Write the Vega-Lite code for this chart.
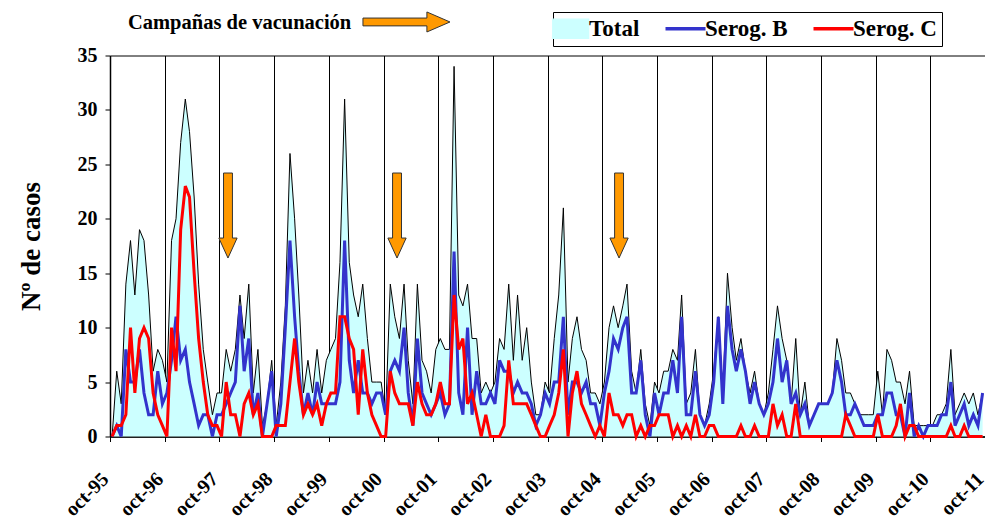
{
  "$schema": "https://vega.github.io/schema/vega-lite/v6.json",
  "width": 875,
  "height": 381,
  "autosize": "none",
  "padding": {"left": 110, "top": 55.5, "right": 0, "bottom": 82.5},
  "background": "white",
  "config": {
    "font": "Liberation Serif",
    "view": {"stroke": "black", "strokeWidth": 1},
    "axis": {"labelFont": "Liberation Serif", "labelFontWeight": "bold", "labelColor": "black", "domainColor": "black", "tickColor": "black", "titleColor": "black", "titleFont": "Liberation Serif", "titleFontWeight": "bold"},
    "legend": {"labelFont": "Liberation Serif", "titleFont": "Liberation Serif"},
    "text": {"font": "Liberation Serif"}
  },
  "datasets": {
    "m": [
      {"d":"1995-10-15","t":0,"b":0,"c":0},{"d":"1995-11-15","t":6,"b":1,"c":1},{"d":"1995-12-15","t":3,"b":0,"c":1},
      {"d":"1996-01-15","t":14,"b":8,"c":2},{"d":"1996-02-15","t":18,"b":5,"c":10},{"d":"1996-03-15","t":13,"b":5,"c":4},
      {"d":"1996-04-15","t":19,"b":8,"c":9},{"d":"1996-05-15","t":18,"b":4,"c":10},{"d":"1996-06-15","t":13,"b":2,"c":9},
      {"d":"1996-07-15","t":6,"b":2,"c":4},{"d":"1996-08-15","t":8,"b":6,"c":2},{"d":"1996-09-15","t":7,"b":3,"c":1},
      {"d":"1996-10-15","t":5,"b":4,"c":0},{"d":"1996-11-15","t":18,"b":7,"c":10},{"d":"1996-12-15","t":20,"b":11,"c":6},
      {"d":"1997-01-15","t":27,"b":7,"c":19},{"d":"1997-02-15","t":31,"b":8,"c":23},{"d":"1997-03-15","t":28,"b":5,"c":22},
      {"d":"1997-04-15","t":22,"b":3,"c":15},{"d":"1997-05-15","t":14,"b":1,"c":9},{"d":"1997-06-15","t":8,"b":2,"c":5},
      {"d":"1997-07-15","t":5,"b":2,"c":2},{"d":"1997-08-15","t":2,"b":0,"c":1},{"d":"1997-09-15","t":4,"b":2,"c":1},
      {"d":"1997-10-15","t":4,"b":2,"c":0},{"d":"1997-11-15","t":8,"b":3,"c":5},{"d":"1997-12-15","t":6,"b":4,"c":2},
      {"d":"1998-01-15","t":8,"b":5,"c":2},{"d":"1998-02-15","t":13,"b":12,"c":0},{"d":"1998-03-15","t":9,"b":6,"c":3},
      {"d":"1998-04-15","t":14,"b":9,"c":4},{"d":"1998-05-15","t":4,"b":2,"c":2},{"d":"1998-06-15","t":8,"b":4,"c":3},
      {"d":"1998-07-15","t":1,"b":0,"c":0},{"d":"1998-08-15","t":3,"b":3,"c":0},{"d":"1998-09-15","t":7,"b":6,"c":0},
      {"d":"1998-10-15","t":1,"b":0,"c":1},{"d":"1998-11-15","t":5,"b":3,"c":1},{"d":"1998-12-15","t":12,"b":10,"c":1},
      {"d":"1999-01-15","t":26,"b":18,"c":5},{"d":"1999-02-15","t":20,"b":11,"c":9},{"d":"1999-03-15","t":13,"b":6,"c":5},
      {"d":"1999-04-15","t":4,"b":2,"c":2},{"d":"1999-05-15","t":7,"b":4,"c":3},{"d":"1999-06-15","t":4,"b":2,"c":2},
      {"d":"1999-07-15","t":8,"b":5,"c":3},{"d":"1999-08-15","t":4,"b":3,"c":1},{"d":"1999-09-15","t":7,"b":3,"c":3},
      {"d":"1999-10-15","t":8,"b":3,"c":4},{"d":"1999-11-15","t":9,"b":3,"c":4},{"d":"1999-12-15","t":16,"b":5,"c":11},
      {"d":"2000-01-15","t":31,"b":18,"c":11},{"d":"2000-02-15","t":16,"b":7,"c":9},{"d":"2000-03-15","t":13,"b":4,"c":8},
      {"d":"2000-04-15","t":11,"b":7,"c":2},{"d":"2000-05-15","t":14,"b":4,"c":8},{"d":"2000-06-15","t":9,"b":4,"c":4},
      {"d":"2000-07-15","t":5,"b":3,"c":2},{"d":"2000-08-15","t":5,"b":4,"c":1},{"d":"2000-09-15","t":5,"b":4,"c":0},
      {"d":"2000-10-15","t":2,"b":2,"c":0},{"d":"2000-11-15","t":14,"b":6,"c":6},{"d":"2000-12-15","t":11,"b":7,"c":4},
      {"d":"2001-01-15","t":9,"b":6,"c":3},{"d":"2001-02-15","t":14,"b":10,"c":3},{"d":"2001-03-15","t":7,"b":4,"c":3},
      {"d":"2001-04-15","t":3,"b":1,"c":1},{"d":"2001-05-15","t":14,"b":9,"c":5},{"d":"2001-06-15","t":7,"b":4,"c":3},
      {"d":"2001-07-15","t":6,"b":3,"c":2},{"d":"2001-08-15","t":4,"b":2,"c":2},{"d":"2001-09-15","t":8,"b":3,"c":3},
      {"d":"2001-10-15","t":9,"b":4,"c":5},{"d":"2001-11-15","t":8,"b":2,"c":3},{"d":"2001-12-15","t":8,"b":3,"c":3},
      {"d":"2002-01-15","t":34,"b":17,"c":13},{"d":"2002-02-15","t":13,"b":4,"c":8},{"d":"2002-03-15","t":12,"b":2,"c":9},
      {"d":"2002-04-15","t":14,"b":10,"c":3},{"d":"2002-05-15","t":9,"b":2,"c":4},{"d":"2002-06-15","t":9,"b":6,"c":2},
      {"d":"2002-07-15","t":4,"b":3,"c":0},{"d":"2002-08-15","t":5,"b":3,"c":2},{"d":"2002-09-15","t":4,"b":4,"c":0},
      {"d":"2002-10-15","t":5,"b":3,"c":0},{"d":"2002-11-15","t":9,"b":7,"c":0},{"d":"2002-12-15","t":8,"b":6,"c":1},
      {"d":"2003-01-15","t":14,"b":6,"c":7},{"d":"2003-02-15","t":7,"b":4,"c":3},{"d":"2003-03-15","t":13,"b":5,"c":3},
      {"d":"2003-04-15","t":7,"b":4,"c":3},{"d":"2003-05-15","t":10,"b":4,"c":3},{"d":"2003-06-15","t":5,"b":3,"c":2},
      {"d":"2003-07-15","t":2,"b":1,"c":1},{"d":"2003-08-15","t":2,"b":2,"c":0},{"d":"2003-09-15","t":5,"b":4,"c":0},
      {"d":"2003-10-15","t":4,"b":3,"c":1},{"d":"2003-11-15","t":9,"b":5,"c":2},{"d":"2003-12-15","t":13,"b":5,"c":4},
      {"d":"2004-01-15","t":21,"b":11,"c":8},{"d":"2004-02-15","t":5,"b":2,"c":0},{"d":"2004-03-15","t":9,"b":5,"c":4},
      {"d":"2004-04-15","t":11,"b":5,"c":6},{"d":"2004-05-15","t":8,"b":4,"c":3},{"d":"2004-06-15","t":7,"b":5,"c":2},
      {"d":"2004-07-15","t":4,"b":3,"c":1},{"d":"2004-08-15","t":4,"b":3,"c":0},{"d":"2004-09-15","t":3,"b":1,"c":1},
      {"d":"2004-10-15","t":5,"b":4,"c":0},{"d":"2004-11-15","t":10,"b":6,"c":4},{"d":"2004-12-15","t":12,"b":9,"c":2},
      {"d":"2005-01-15","t":10,"b":8,"c":2},{"d":"2005-02-15","t":12,"b":10,"c":1},{"d":"2005-03-15","t":14,"b":11,"c":2},
      {"d":"2005-04-15","t":6,"b":4,"c":2},{"d":"2005-05-15","t":4,"b":4,"c":0},{"d":"2005-06-15","t":8,"b":7,"c":1},
      {"d":"2005-07-15","t":3,"b":2,"c":0},{"d":"2005-08-15","t":1,"b":0,"c":1},{"d":"2005-09-15","t":5,"b":4,"c":1},
      {"d":"2005-10-15","t":4,"b":2,"c":2},{"d":"2005-11-15","t":6,"b":4,"c":2},{"d":"2005-12-15","t":6,"b":4,"c":2},
      {"d":"2006-01-15","t":8,"b":7,"c":0},{"d":"2006-02-15","t":7,"b":4,"c":1},{"d":"2006-03-15","t":13,"b":11,"c":0},
      {"d":"2006-04-15","t":3,"b":2,"c":1},{"d":"2006-05-15","t":4,"b":2,"c":0},{"d":"2006-06-15","t":8,"b":6,"c":2},
      {"d":"2006-07-15","t":2,"b":2,"c":0},{"d":"2006-08-15","t":1,"b":1,"c":0},{"d":"2006-09-15","t":3,"b":2,"c":1},
      {"d":"2006-10-15","t":6,"b":5,"c":1},{"d":"2006-11-15","t":11,"b":11,"c":0},{"d":"2006-12-15","t":4,"b":3,"c":0},
      {"d":"2007-01-15","t":15,"b":12,"c":0},{"d":"2007-02-15","t":10,"b":8,"c":0},{"d":"2007-03-15","t":7,"b":6,"c":0},
      {"d":"2007-04-15","t":9,"b":8,"c":1},{"d":"2007-05-15","t":6,"b":6,"c":0},{"d":"2007-06-15","t":4,"b":3,"c":0},
      {"d":"2007-07-15","t":6,"b":5,"c":1},{"d":"2007-08-15","t":3,"b":3,"c":0},{"d":"2007-09-15","t":2,"b":2,"c":0},
      {"d":"2007-10-15","t":4,"b":3,"c":0},{"d":"2007-11-15","t":8,"b":5,"c":3},{"d":"2007-12-15","t":12,"b":9,"c":1},
      {"d":"2008-01-15","t":9,"b":5,"c":2},{"d":"2008-02-15","t":7,"b":7,"c":0},{"d":"2008-03-15","t":3,"b":3,"c":0},
      {"d":"2008-04-15","t":9,"b":4,"c":3},{"d":"2008-05-15","t":2,"b":2,"c":0},{"d":"2008-06-15","t":5,"b":3,"c":0},
      {"d":"2008-07-15","t":1,"b":1,"c":0},{"d":"2008-08-15","t":2,"b":2,"c":0},{"d":"2008-09-15","t":3,"b":3,"c":0},
      {"d":"2008-10-15","t":3,"b":3,"c":0},{"d":"2008-11-15","t":3,"b":3,"c":0},{"d":"2008-12-15","t":4,"b":4,"c":0},
      {"d":"2009-01-15","t":9,"b":7,"c":0},{"d":"2009-02-15","t":7,"b":5,"c":0},{"d":"2009-03-15","t":4,"b":2,"c":2},
      {"d":"2009-04-15","t":4,"b":2,"c":1},{"d":"2009-05-15","t":3,"b":3,"c":0},{"d":"2009-06-15","t":2,"b":2,"c":0},
      {"d":"2009-07-15","t":2,"b":1,"c":0},{"d":"2009-08-15","t":2,"b":1,"c":0},{"d":"2009-09-15","t":2,"b":1,"c":0},
      {"d":"2009-10-15","t":6,"b":2,"c":2},{"d":"2009-11-15","t":2,"b":2,"c":0},{"d":"2009-12-15","t":8,"b":4,"c":0},
      {"d":"2010-01-15","t":7,"b":4,"c":0},{"d":"2010-02-15","t":5,"b":2,"c":1},{"d":"2010-03-15","t":5,"b":2,"c":3},
      {"d":"2010-04-15","t":3,"b":0,"c":0},{"d":"2010-05-15","t":6,"b":4,"c":1},{"d":"2010-06-15","t":1,"b":0,"c":1},
      {"d":"2010-07-15","t":1,"b":1,"c":0},{"d":"2010-08-15","t":1,"b":0,"c":0},{"d":"2010-09-15","t":1,"b":1,"c":0},
      {"d":"2010-10-15","t":1,"b":1,"c":0},{"d":"2010-11-15","t":2,"b":1,"c":0},{"d":"2010-12-15","t":2,"b":2,"c":0},
      {"d":"2011-01-15","t":3,"b":2,"c":0},{"d":"2011-02-15","t":8,"b":5,"c":1},{"d":"2011-03-15","t":2,"b":1,"c":0},
      {"d":"2011-04-15","t":3,"b":2,"c":0},{"d":"2011-05-15","t":4,"b":3,"c":1},{"d":"2011-06-15","t":3,"b":1,"c":0},
      {"d":"2011-07-15","t":4,"b":2,"c":0},{"d":"2011-08-15","t":2,"b":1,"c":0},{"d":"2011-09-15","t":4,"b":4,"c":0}
    ],
    "down": [
      {"d":"1997-11-27","v":20.3},{"d":"2000-12-30","v":20.3},{"d":"2005-01-21","v":20.3}
    ],
    "right": [{"d":"2001-03-03","v":38.08}],
    "note": [{"d":"1996-01-29","v":37.4,"label":"Campañas de vacunación"}]
  },
  "encoding": {
    "x": {
      "field": "d", "type": "temporal", "title": null,
      "scale": {"domain": [{"year":1995,"month":10,"date":1},{"year":2011,"month":10,"date":1}]},
      "axis": {
        "values": [
          {"year":1995,"month":10,"date":1},{"year":1996,"month":10,"date":1},{"year":1997,"month":10,"date":1},
          {"year":1998,"month":10,"date":1},{"year":1999,"month":10,"date":1},{"year":2000,"month":10,"date":1},
          {"year":2001,"month":10,"date":1},{"year":2002,"month":10,"date":1},{"year":2003,"month":10,"date":1},
          {"year":2004,"month":10,"date":1},{"year":2005,"month":10,"date":1},{"year":2006,"month":10,"date":1},
          {"year":2007,"month":10,"date":1},{"year":2008,"month":10,"date":1},{"year":2009,"month":10,"date":1},
          {"year":2010,"month":10,"date":1},{"year":2011,"month":10,"date":1}
        ],
        "labelExpr": "lower(timeFormat(datum.value, '%b-%y'))",
        "labelFont": "Liberation Serif", "labelFontWeight": "bold", "labelColor": "black",
        "labelAngle": -45, "labelFontSize": 20, "labelPadding": 27, "labelOffset": -12, "tickSize": 5,
        "labelOverlap": false, "labelFlush": false, "labelBound": false,
        "grid": true, "gridColor": "black", "gridOpacity": 1, "gridWidth": 1, "domainWidth": 1.5, "domainColor": "black", "tickColor": "black"
      }
    }
  },
  "layer": [
    {
      "data": {"name": "m"},
      "mark": {"type": "area", "opacity": 1},
      "encoding": {
        "y": {
          "field": "t", "type": "quantitative", "title": "Nº de casos", "scale": {"domain": [0, 35], "nice": false},
          "axis": {
            "grid": false, "values": [0, 5, 10, 15, 20, 25, 30, 35],
            "labelFont": "Liberation Serif", "labelFontWeight": "bold", "labelFontSize": 20, "labelColor": "black",
            "tickSize": 5, "labelPadding": 8, "tickColor": "black", "domainColor": "black", "domainWidth": 1.5,
            "titleFont": "Liberation Serif", "titleFontWeight": "bold", "titleFontSize": 27, "titleColor": "black", "titlePadding": 32
          }
        },
        "color": {
          "datum": "Total",
          "scale": {"domain": ["Total", "Serog. B", "Serog. C"], "range": ["#CCFFFF", "#3333CC", "#FF0000"]},
          "legend": {
            "title": null, "orient": "none", "legendX": 443, "legendY": -43.5, "direction": "horizontal",
            "strokeColor": "black", "fillColor": "white", "padding": 5,
            "labelFont": "Liberation Serif", "labelFontSize": 23, "labelFontWeight": "bold", "labelColor": "black",
            "symbolSize": 1024, "columnPadding": 18, "labelOffset": 8, "symbolStrokeWidth": 3, "symbolOpacity": 1,
            "encode": {
              "symbols": {
                "update": {
                  "shape": {"signal": "datum.value === 'Total' ? 'M-1.05,-0.6L1.2,-0.6L1.2,0.6L-1.05,0.6Z' : 'M-1.25,0L1.25,0'"},
                  "strokeWidth": {"signal": "datum.value === 'Total' ? 1.2 : 3.5"},
                  "stroke": {"signal": "datum.value === 'Total' ? 'black' : scale('color', datum.value)"},
                  "fill": {"signal": "datum.value === 'Total' ? '#CCFFFF' : 'transparent'"}
                }
              }
            }
          }
        }
      }
    },
    {
      "data": {"name": "m"},
      "mark": {"type": "line", "color": "black", "strokeWidth": 1},
      "encoding": {
        "y": {"field": "t", "type": "quantitative", "title": "Nº de casos", "scale": {"domain": [0, 35], "nice": false}}
      }
    },
    {
      "data": {"name": "m"},
      "mark": {"type": "line", "strokeWidth": 3},
      "encoding": {
        "y": {"field": "b", "type": "quantitative", "title": "Nº de casos", "scale": {"domain": [0, 35], "nice": false}},
        "color": {"datum": "Serog. B"}
      }
    },
    {
      "data": {"name": "m"},
      "mark": {"type": "line", "strokeWidth": 3},
      "encoding": {
        "y": {"field": "c", "type": "quantitative", "title": "Nº de casos", "scale": {"domain": [0, 35], "nice": false}},
        "color": {"datum": "Serog. C"}
      }
    },
    {
      "data": {"name": "down"},
      "mark": {"type": "point", "shape": "M-0.105,-1L0.105,-1L0.105,0.53L0.215,0.53L0,1L-0.215,0.53L-0.105,0.53Z", "size": 7225, "filled": true, "fill": "#FF9900", "stroke": "#333333", "strokeWidth": 1, "opacity": 1},
      "encoding": {
        "y": {"field": "v", "type": "quantitative", "title": "Nº de casos", "scale": {"domain": [0, 35], "nice": false}}
      }
    },
    {
      "data": {"name": "right"},
      "mark": {"type": "point", "shape": "M-1,-0.09L0.47,-0.09L0.47,-0.23L1,0L0.47,0.23L0.47,0.09L-1,0.09Z", "size": 7569, "filled": true, "fill": "#FF9900", "stroke": "#333333", "strokeWidth": 1, "opacity": 1},
      "encoding": {
        "y": {"field": "v", "type": "quantitative", "title": "Nº de casos", "scale": {"domain": [0, 35], "nice": false}}
      }
    },
    {
      "data": {"name": "note"},
      "mark": {"type": "text", "align": "left", "baseline": "alphabetic", "font": "Liberation Serif", "fontSize": 20.5, "fontWeight": "bold", "color": "black"},
      "encoding": {
        "y": {"field": "v", "type": "quantitative", "title": "Nº de casos", "scale": {"domain": [0, 35], "nice": false}},
        "text": {"field": "label"}
      }
    }
  ]
}
